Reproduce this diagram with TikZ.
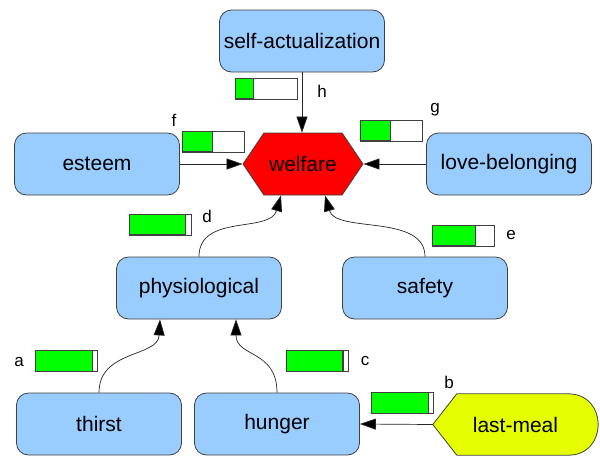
\documentclass[tikz,border=0pt]{standalone}
\usepackage{fontspec}
\setmainfont{Liberation Sans}
\usetikzlibrary{positioning,arrows.meta,shapes.symbols,backgrounds}
\definecolor{boxblue}{HTML}{99CCFF}
\definecolor{barGreen}{HTML}{00FF00}
\definecolor{mealYellow}{HTML}{E6FF00}
\definecolor{edgegray}{HTML}{404040}

\begin{document}
\begin{tikzpicture}[x=1pt, y=-1pt, >={Triangle[length=16pt,width=11pt,fill=black]},
  every node/.style={font=\fontsize{21}{25}\selectfont},
  need/.style={draw=edgegray, fill=boxblue, rounded corners=12pt, line width=0.8pt,
    minimum width=165pt, minimum height=62pt, inner sep=0pt},
  goal/.style={shape=signal, signal to=west and east, signal pointer angle=112,
    draw=edgegray, fill=red, line width=0.8pt, minimum width=120pt, minimum height=62pt, inner sep=0pt},
  meal/.style={minimum width=165pt, minimum height=61pt, inner sep=0pt},
  bar/.style={draw=edgegray, fill=white, line width=0.8pt, minimum width=62pt, minimum height=21pt, inner sep=0pt,
    path picture={\fill [barGreen, draw=edgegray, line width=1.2pt] (path picture bounding box.south west)
      rectangle ([xshift=#1*62pt]path picture bounding box.north west);}},
  tag/.style={font=\fontsize{17}{20}\selectfont, inner sep=0pt},
  link/.style={->, draw=black!85, line width=0.7pt}]

\useasboundingbox (0,0) rectangle (600,456);

\foreach \m/\l/\x/\y in {sa/self-actualization/302/41, esteem/esteem/97/164, love/love-belonging/509/164,
    phys/physiological/199/288, safety/safety/425/288, thirst/thirst/99/424, hunger/hunger/277/424}
  \node [need] (\m) at (\x,\y) {\l};

\node [goal] (welfare) at (303,164) {welfare};

\node [meal] (meal) at (515.5,424.5) {last-meal};
\begin{pgfonlayer}{background}
\draw [draw=edgegray, fill=mealYellow, line width=0.8pt] (meal.west) -- ([xshift=24pt]meal.north west)
  -- ([xshift=-30pt]meal.north east) .. controls ([xshift=10pt]meal.north east) and ([xshift=10pt]meal.south east)
  .. ([xshift=-30pt]meal.south east) -- ([xshift=24pt]meal.south west) -- cycle;
\end{pgfonlayer}

\foreach \n/\x/\y/\f in {a/66.5/361/0.92, b/402.5/403/0.92, c/317/361/0.92, d/160.5/224.5/0.9,
    e/463.5/235.5/0.69, f/213.5/141.5/0.49, g/391.5/130.5/0.49, h/266/88.5/0.3}
  \node [bar=\f] (bar-\n) at (\x,\y) {};

\foreach \n/\x/\y in {a/19/362, b/449/382, c/365/361, d/207/216, e/511/235, f/174/120, g/435/110, h/322/91}
  \node [tag] (tag-\n) at (\x,\y) {\n};

\draw [link] (sa.south) -- (sa.south |- welfare.north);
\draw [link] (esteem.east) -- (welfare.west);
\draw [link] (love.west) -- (welfare.east);
\draw [link] (meal.west) -- (hunger.east);

\foreach \s/\t/\dx/\cx in {phys/welfare/-22/-11, safety/welfare/22/11, thirst/phys/-39/-2, hunger/phys/37/0}
  \draw [link] (\s.north) .. controls +(0,-43) and +(\cx,38) .. ([xshift=\dx pt]\t.south);

\end{tikzpicture}
\end{document}
